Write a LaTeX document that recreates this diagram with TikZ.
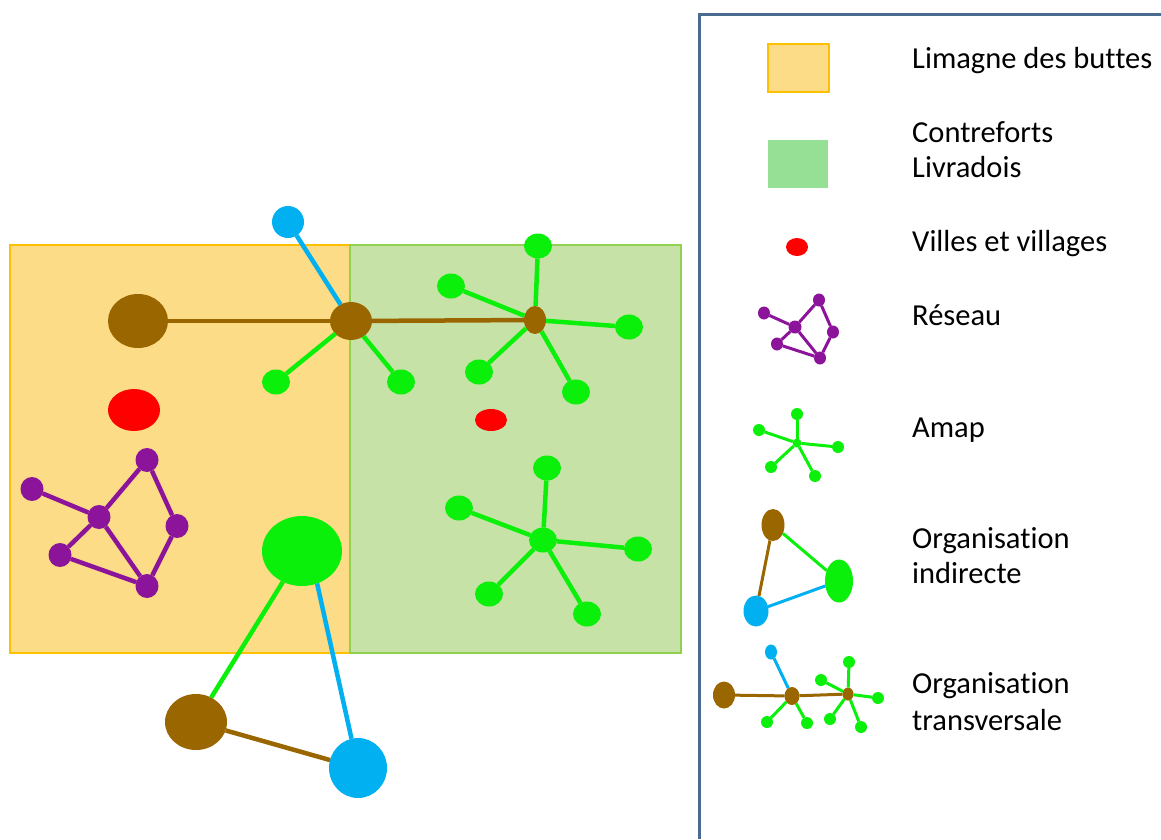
\documentclass[tikz,border=0pt]{standalone}
\usepackage{fontspec}
\setmainfont{Carlito}[Ligatures={NoCommon,NoContextual}, RawFeature={-liga;-clig;-dlig}]
\usepackage{xcolor}
\usetikzlibrary{shapes.geometric}

\definecolor{brownorg}{RGB}{153,102,0}
\definecolor{blueorg}{RGB}{0,176,240}
\definecolor{greenamap}{RGB}{10,240,10}
\definecolor{redville}{RGB}{255,0,0}
\definecolor{purpleres}{RGB}{140,20,155}
\definecolor{limfill}{RGB}{252,220,134}
\definecolor{limline}{RGB}{255,192,0}
\definecolor{livfill}{RGB}{198,226,166}
\definecolor{livline}{RGB}{146,208,80}
\definecolor{legfill}{RGB}{150,224,150}
\definecolor{framecol}{RGB}{74,106,144}

\tikzset{
  spot/.style={ellipse, inner sep=0pt, outer sep=0pt},
  brownspot/.style={spot, fill=brownorg},
  bluespot/.style={spot, fill=blueorg},
  greenspot/.style={spot, fill=greenamap},
  redspot/.style={spot, fill=redville},
  purplespot/.style={spot, fill=purpleres},
  leaf/.style={greenspot, minimum width=28pt, minimum height=25pt},
  resnode/.style={purplespot, minimum width=23pt, minimum height=24pt},
  legleaf/.style={greenspot, minimum width=12pt, minimum height=12pt},
  legres/.style={purplespot, minimum width=12pt, minimum height=13pt},
  link/.style={line width=4.5pt},
  leglink/.style={line width=3pt},
  legtext/.style={anchor=base west, inner sep=0pt, font=\fontsize{30.5}{36}\selectfont}
}

\begin{document}
\begin{tikzpicture}[x=1pt, y=-1pt]
      \useasboundingbox (0,0) rectangle (1161,839);
      \fill[white] (0,0) rectangle (1161,839);
      \filldraw[fill=limfill, draw=limline, line width=2pt] (10,245) rectangle (350,653);
      \filldraw[fill=livfill, draw=livline, line width=2pt] (350,245) rectangle (681,653);
      \draw[framecol, line width=3pt] (699,839) -- (699,14) -- (1161,14);
      % map
      \node[brownspot, minimum width=60pt, minimum height=54pt] (bigBrown) at (138,321) {};
      \node[brownspot, minimum width=42pt, minimum height=38pt] (midBrown) at (351,321) {};
      \node[brownspot, minimum width=22pt, minimum height=28pt] (smallBrown) at (535,320) {};
      \node[bluespot, minimum width=32pt, minimum height=32pt] (topBlue) at (288,222) {};
      \node[leaf] (midLeafA) at (276,382) {};
      \node[leaf] (midLeafB) at (401,382) {};
      \node[leaf] (eastLeafA) at (538,246) {};
      \node[leaf] (eastLeafB) at (451,286) {};
      \node[leaf] (eastLeafC) at (629,327) {};
      \node[leaf] (eastLeafD) at (479,372) {};
      \node[leaf] (eastLeafE) at (576,392) {};
      \node[redspot, minimum width=52pt, minimum height=42pt] (bigVille) at (134,410) {};
      \node[redspot, minimum width=32pt, minimum height=22pt] (smallVille) at (491,420) {};
      \node[resnode] (resA) at (32,489) {};
      \node[resnode] (resB) at (99,517) {};
      \node[resnode] (resC) at (147,460) {};
      \node[resnode] (resD) at (177,526) {};
      \node[resnode] (resE) at (60,555) {};
      \node[resnode] (resF) at (147,586) {};
      \node[leaf] (southCenter) at (543,540) {};
      \node[leaf] (southLeafA) at (547,468) {};
      \node[leaf] (southLeafB) at (459,508) {};
      \node[leaf] (southLeafC) at (638,549) {};
      \node[leaf] (southLeafD) at (489,594) {};
      \node[leaf] (southLeafE) at (587,614) {};
      \node[greenspot, minimum width=80pt, minimum height=70pt] (bigGreen) at (302,551) {};
      \node[brownspot, minimum width=62pt, minimum height=56pt] (botBrown) at (196,722) {};
      \node[bluespot, minimum width=58pt, minimum height=60pt] (botBlue) at (358,768) {};
      \draw[link, brownorg] (bigBrown) -- (midBrown);
      \draw[link, brownorg] (midBrown) -- (smallBrown);
      \draw[link, blueorg] (topBlue) -- (midBrown);
      \draw[link, greenamap] (midBrown) -- (midLeafA);
      \draw[link, greenamap] (midBrown) -- (midLeafB);
      \draw[link, greenamap] (smallBrown) -- (eastLeafA);
      \draw[link, greenamap] (smallBrown) -- (eastLeafB);
      \draw[link, greenamap] (smallBrown) -- (eastLeafC);
      \draw[link, greenamap] (smallBrown) -- (eastLeafD);
      \draw[link, greenamap] (smallBrown) -- (eastLeafE);
      \draw[link, purpleres] (resA) -- (resB);
      \draw[link, purpleres] (resB) -- (resC);
      \draw[link, purpleres] (resC) -- (resD);
      \draw[link, purpleres] (resD) -- (resF);
      \draw[link, purpleres] (resB) -- (resE);
      \draw[link, purpleres] (resE) -- (resF);
      \draw[link, purpleres] (resB) -- (resF);
      \draw[link, greenamap] (southCenter) -- (southLeafA);
      \draw[link, greenamap] (southCenter) -- (southLeafB);
      \draw[link, greenamap] (southCenter) -- (southLeafC);
      \draw[link, greenamap] (southCenter) -- (southLeafD);
      \draw[link, greenamap] (southCenter) -- (southLeafE);
      \draw[link, greenamap] (bigGreen) -- (botBrown);
      \draw[link, blueorg] (bigGreen.-65) -- (botBlue);
      \draw[link, brownorg] (botBrown) -- (botBlue);
      % legend
      \filldraw[fill=limfill, draw=limline, line width=2pt] (768,44) rectangle (829,92);
      \fill[legfill] (768,140) rectangle (828,188);
      \node[redspot, minimum width=22pt, minimum height=18pt] (legVille) at (797,247) {};
      \node[legres] (legResA) at (764,313) {};
      \node[legres, minimum width=13pt] (legResB) at (795,327) {};
      \node[legres] (legResC) at (819,300) {};
      \node[legres] (legResD) at (833,332) {};
      \node[legres] (legResE) at (777,344) {};
      \node[legres] (legResF) at (820,358) {};
      \draw[leglink, purpleres] (legResA) -- (legResB);
      \draw[leglink, purpleres] (legResB) -- (legResC);
      \draw[leglink, purpleres] (legResC) -- (legResD);
      \draw[leglink, purpleres] (legResD) -- (legResF);
      \draw[leglink, purpleres] (legResB) -- (legResE);
      \draw[leglink, purpleres] (legResE) -- (legResF);
      \draw[leglink, purpleres] (legResB) -- (legResF);
      \node[greenspot, minimum width=9pt, minimum height=9pt] (legAmap) at (797,443) {};
      \node[legleaf] (legAmapA) at (797,414) {};
      \node[legleaf] (legAmapB) at (759,430) {};
      \node[legleaf] (legAmapC) at (838,447) {};
      \node[legleaf] (legAmapD) at (771,467) {};
      \node[legleaf] (legAmapE) at (815,476) {};
      \draw[leglink, greenamap] (legAmap) -- (legAmapA);
      \draw[leglink, greenamap] (legAmap) -- (legAmapB);
      \draw[leglink, greenamap] (legAmap) -- (legAmapC);
      \draw[leglink, greenamap] (legAmap) -- (legAmapD);
      \draw[leglink, greenamap] (legAmap) -- (legAmapE);
      \node[brownspot, minimum width=23pt, minimum height=32pt] (indBrown) at (773,525) {};
      \node[greenspot, minimum width=28pt, minimum height=43pt] (indGreen) at (839,581) {};
      \node[bluespot, minimum width=25pt, minimum height=31pt] (indBlue) at (756,611) {};
      \draw[leglink, greenamap] (indBrown) -- (indGreen);
      \draw[leglink, brownorg] (indBrown) -- (indBlue);
      \draw[leglink, blueorg] (indBlue) -- (indGreen);
      \node[brownspot, minimum width=22pt, minimum height=27pt] (trvBig) at (724,695) {};
      \node[brownspot, minimum width=15pt, minimum height=18pt] (trvMid) at (792,696) {};
      \node[brownspot, minimum width=11pt, minimum height=13pt] (trvSmall) at (848,694) {};
      \node[bluespot, minimum width=12pt, minimum height=15pt] (trvBlue) at (771,652) {};
      \node[legleaf] (trvLeafA) at (767,722) {};
      \node[legleaf] (trvLeafB) at (807,723) {};
      \node[legleaf] (trvLeafC) at (849,662) {};
      \node[legleaf] (trvLeafD) at (821,680) {};
      \node[legleaf] (trvLeafE) at (878,698) {};
      \node[legleaf] (trvLeafF) at (830,719) {};
      \node[legleaf] (trvLeafG) at (861,727) {};
      \draw[leglink, brownorg] (trvBig) -- (trvMid);
      \draw[leglink, brownorg] (trvMid) -- (trvSmall);
      \draw[leglink, blueorg] (trvBlue) -- (trvMid);
      \draw[leglink, greenamap] (trvMid) -- (trvLeafA);
      \draw[leglink, greenamap] (trvMid) -- (trvLeafB);
      \draw[leglink, greenamap] (trvSmall) -- (trvLeafC);
      \draw[leglink, greenamap] (trvSmall) -- (trvLeafD);
      \draw[leglink, greenamap] (trvSmall) -- (trvLeafE);
      \draw[leglink, greenamap] (trvSmall) -- (trvLeafF);
      \draw[leglink, greenamap] (trvSmall) -- (trvLeafG);
      \node[legtext] (limLabel) at (912,68) {Limagne des buttes};
      \node[legtext] (livLabelA) at (912,142) {Contreforts};
      \node[legtext] (livLabelB) at (912,177) {Livradois};
      \node[legtext] (villeLabel) at (912,251) {Villes et villages};
      \node[legtext] (resLabel) at (912,325) {Réseau};
      \node[legtext] (amapLabel) at (912,437) {Amap};
      \node[legtext] (indLabelA) at (912,548) {Organisation};
      \node[legtext] (indLabelB) at (912,583) {indirecte};
      \node[legtext] (trvLabelA) at (912,693) {Organisation};
      \node[legtext] (trvLabelB) at (912,730) {transversale};
\end{tikzpicture}
\end{document}
